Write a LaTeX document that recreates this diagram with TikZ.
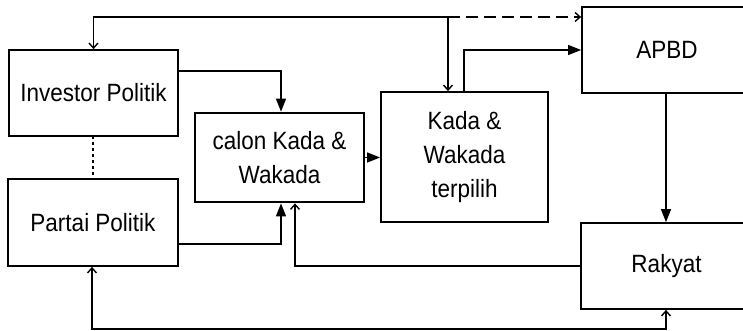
\documentclass[tikz,border=0pt]{standalone}
\usepackage{fontspec}
\setmainfont{Liberation Sans}[FakeStretch=0.9]
\usetikzlibrary{arrows.meta,calc}
\begin{document}
\begin{tikzpicture}[x=1pt,y=-1pt,
  box/.style={draw,line width=1.8pt,inner sep=0pt,align=center,font=\fontsize{25}{34}\selectfont},
  conn/.style={line width=1.4pt},
  full/.style={-{Triangle[length=13pt,width=10pt]}},
  open/.style={-{Straight Barb[length=5pt,width=9pt]}}]
\useasboundingbox (0,0) rectangle (743,331);
\fill[white] (0,0) rectangle (743,331);
\node[box,minimum width=169pt,minimum height=86pt] (inv) at (93.5,93) {Investor Politik};
\node[box,minimum width=170pt,minimum height=87pt] (par) at (93,222.5) {Partai Politik};
\node[box,line width=2.8pt,minimum width=169pt,minimum height=89pt] (cal) at (279.5,157.5) {calon Kada \&\\Wakada};
\node[box,minimum width=167pt,minimum height=130pt] (kad) at (464.5,157) {Kada \&\\Wakada\\terpilih};
\node[box,minimum width=170pt,minimum height=86pt] (apbd) at (667,50) {APBD};
\node[box,minimum width=171pt,minimum height=86pt] (rak) at (666.5,266) {Rakyat};
\coordinate (J) at (448,17);
\coordinate (B) at (666,329);
% top junction
\draw[conn,open] (J) -| (inv.north);
\draw[conn,open] (J) -- (J |- kad.north);
\draw[conn,open,dash pattern=on 12pt off 6pt] (J) -- (J -| apbd.west);
% Kada terpilih -> APBD
\draw[conn,full] ([xshift=-0.5pt]kad.north) |- (apbd.west);
% Investor -> calon
\draw[conn,full] (inv.east |- 0,71) -| ([xshift=1.5pt]cal.north);
% Partai -> calon
\draw[conn,full] (par.east |- 0,244) -| ([xshift=1.5pt]cal.south);
% calon -> Kada terpilih
\draw[conn,full] (cal.east) -- (cal.east -| kad.west);
% Rakyat -> calon
\draw[conn,open] (rak.west) -| ([xshift=15.5pt]cal.south);
% APBD -> Rakyat
\draw[conn,full] ([xshift=-1pt]apbd.south) -- ([xshift=-1pt]apbd.south |- rak.north);
% Rakyat <-> Partai
\draw[conn,{Straight Barb[length=5pt,width=9pt]}-{Straight Barb[length=5pt,width=9pt]}] ([xshift=-0.5pt]rak.south) -- (B) -| ([xshift=-1pt]par.south);
% Investor - Partai dotted
\draw[line width=2pt,dash pattern=on 3pt off 3pt] (inv.south) -- (par.south |- inv.south) -- (par.north);
\end{tikzpicture}
\end{document}
